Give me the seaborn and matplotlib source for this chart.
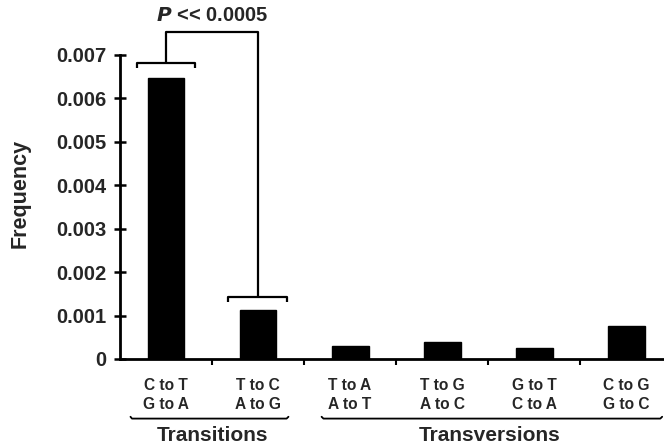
import matplotlib
matplotlib.use("Agg")
import matplotlib.pyplot as plt
import matplotlib.transforms as mtransforms
import seaborn as sns
import pandas as pd

categories = ["C to T\nG to A", "T to C\nA to G", "T to A\nA to T",
              "T to G\nA to C", "G to T\nC to A", "C to G\nG to C"]
frequency = [0.00648, 0.00112, 0.00031, 0.00039, 0.00025, 0.00077]
yticks = [0, 0.001, 0.002, 0.003, 0.004, 0.005, 0.006, 0.007]
ytick_labels = ["0", "0.001", "0.002", "0.003", "0.004", "0.005", "0.006", "0.007"]
groups = ["Transitions", "Transversions"]
p_text = "$\\mathbf{\\it{P}}$ << 0.0005"

sns.set_theme(style="ticks")
plt.rcParams['font.family'] = ['Liberation Sans', 'DejaVu Sans']
plt.rcParams['font.weight'] = 'bold'

df = pd.DataFrame({"cat": categories, "freq": frequency})

fig = plt.figure(figsize=(6.64, 4.47), dpi=100)
ax = fig.add_axes([120/664, (447-359)/447, 1 - 120/664, (359-55)/447])

sns.barplot(data=df, x="cat", y="freq", order=categories, color="black",
            width=0.4, saturation=1, ax=ax, edgecolor="black")

ax.set_xlim(-0.5, 5.41)
ax.set_ylim(0, 0.007)
ax.set_yticks(yticks)
ax.set_yticklabels(ytick_labels, fontsize=14.5, fontweight='bold')
ax.tick_params(axis='y', direction='inout', length=9, width=1.8, pad=5, color='black')
ax.set_xticks(range(len(categories)))
ax.set_xticklabels(categories, fontsize=11.2, fontweight='bold', linespacing=1.3)
ax.tick_params(axis='x', which='major', length=0, pad=14)
ax.set_xticks([i + 0.5 for i in range(len(categories) - 1)], minor=True)
ax.tick_params(axis='x', which='minor', direction='out', length=4, width=1.5, color='black')
ax.set_xlabel("")
ax.set_ylabel("")
for s in ["top", "right"]:
    ax.spines[s].set_visible(False)
for s in ["left", "bottom"]:
    ax.spines[s].set_linewidth(2)
    ax.spines[s].set_color("black")

ax.text(-0.184, 0.544, "Frequency", rotation=90, ha='center', va='center',
        transform=ax.transAxes, fontsize=15.5, fontweight='bold')

# significance brackets (data coords)
lw = 1.6
kw = dict(color='black', lw=lw, clip_on=False, solid_capstyle='butt')
ax.plot([-0.32, -0.32, 0.31, 0.31], [0.00670, 0.00682, 0.00682, 0.00670], **kw)
ax.plot([0.67, 0.67, 1.31, 1.31], [0.00131, 0.00143, 0.00143, 0.00131], **kw)
ax.plot([0, 0, 1, 1], [0.00682, 0.00753, 0.00753, 0.00143], **kw)
ax.text(0.5, 0.00792, p_text, ha='center', va='center', fontsize=14.5, fontweight='bold')

# group brackets below the axis
trans = mtransforms.blended_transform_factory(ax.transData, ax.transAxes)
gk = dict(color='black', lw=1.3, clip_on=False, transform=trans)
ax.plot([-0.386, -0.37, 1.31, 1.33], [-0.190, -0.196, -0.196, -0.190], **gk)
ax.plot([1.69, 1.71, 5.37, 5.39], [-0.190, -0.196, -0.196, -0.190], **gk)
ax.text(0.5, -0.252, groups[0], ha='center', va='center', transform=trans,
        fontsize=15, fontweight='bold')
ax.text(3.52, -0.252, groups[1], ha='center', va='center', transform=trans,
        fontsize=15, fontweight='bold')

fig.savefig("out.png", dpi=100)
